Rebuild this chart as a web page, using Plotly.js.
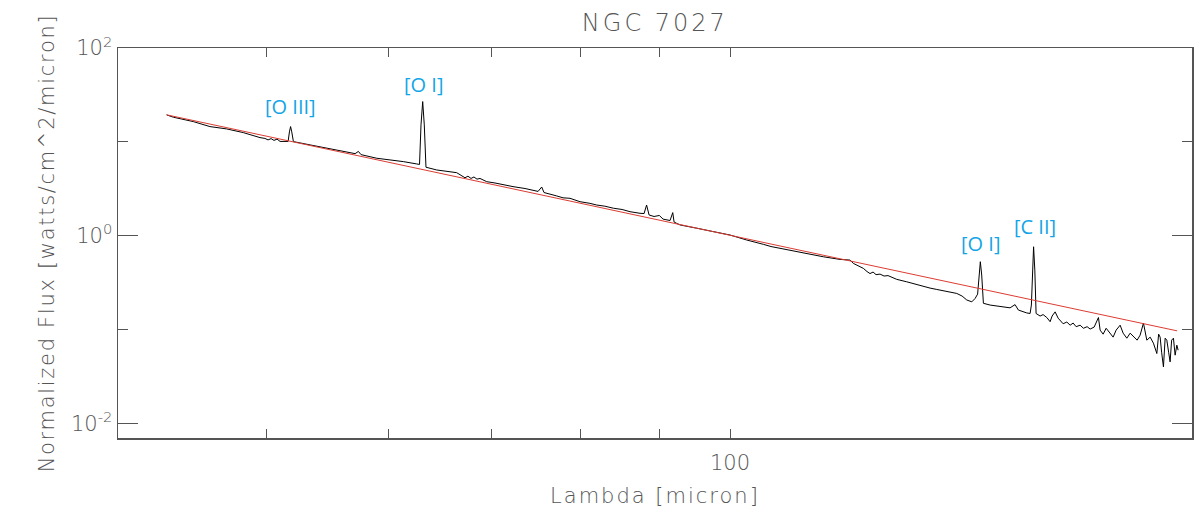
<!DOCTYPE html>
<html>
<head>
<meta charset="utf-8">
<script src="https://cdn.plot.ly/plotly-3.0.1.min.js"></script>
<style>
  html, body { margin: 0; padding: 0; background: #fff; }
  #chart { width: 1195px; height: 511px; }
  .gtitle { letter-spacing: 3px; }
  .xtitle { letter-spacing: 2px; }
  .ytitle { letter-spacing: 1.7px; }
</style>
</head>
<body>
<div id="chart"></div>
<script>
// Spectrum of NGC 7027 (wavelength in micron, normalized flux)
const wavelength = [43.07,43.50,44.82,45.95,47.11,48.30,49.52,49.89,50.12,50.35,
  50.57,50.80,51.03,51.28,51.65,51.75,51.84,51.93,52.06,53.38,
  54.73,56.10,57.09,57.37,57.60,58.97,59.85,61.36,62.60,62.86,
  63.00,63.16,63.31,63.47,64.50,66.45,66.98,67.28,67.58,67.89,
  68.19,68.50,68.81,69.50,70.37,71.25,72.29,73.60,75.05,75.46,
  75.72,77.17,77.90,78.72,79.90,81.10,81.92,82.94,84.00,85.09,
  86.11,87.41,87.94,88.27,88.60,89.26,89.97,90.47,90.97,91.42,
  91.79,91.97,92.34,92.80,95.14,97.54,100.0,102.53,103.81,105.10,
  106.32,107.77,109.38,112.16,114.98,117.88,119.65,120.24,122.05,122.73,
  123.28,123.84,124.39,125.14,125.89,126.64,127.59,128.30,130.23,131.86,
  133.50,134.85,136.21,137.56,138.95,140.35,141.47,142.47,143.54,144.25,
  144.79,145.07,145.38,145.68,146.05,147.52,149.74,151.99,153.13,153.89,
  155.83,156.61,156.91,157.15,157.43,157.72,158.02,158.97,159.69,160.57,
  161.37,161.85,162.58,163.31,163.80,164.54,165.45,166.27,167.02,167.77,
  168.77,169.61,170.55,171.32,172.35,173.46,173.90,174.68,175.47,176.52,
  177.31,178.11,179.18,179.98,180.98,181.88,182.77,183.79,184.61,185.53,
  186.47,187.40,188.32,189.28,189.79,190.22,190.64,191.16,191.65,192.13,
  192.65,193.08,193.52,194.04,194.53,195.03,195.41];
const flux = [19.37,18.30,16.43,14.53,13.73,12.54,11.09,10.87,10.48,10.82,
  10.35,10.69,10.10,10.05,10.10,12.76,14.53,12.76,10.05,9.27,
  8.54,7.86,7.48,7.90,7.30,6.68,6.52,6.15,5.81,5.74,
  15.15,26.85,15.15,5.36,5.01,4.69,4.33,4.14,4.30,4.07,
  4.22,4.00,4.07,3.76,3.64,3.47,3.33,3.18,2.96,3.30,
  2.88,2.65,2.53,2.50,2.30,2.21,2.12,2.06,1.96,1.90,
  1.80,1.73,1.72,2.12,1.66,1.60,1.64,1.50,1.47,1.45,
  1.76,1.40,1.35,1.30,1.20,1.10,1.015,0.898,0.844,0.808,
  0.765,0.732,0.702,0.647,0.595,0.558,0.549,0.506,0.448,0.414,
  0.394,0.409,0.384,0.389,0.371,0.375,0.357,0.342,0.322,0.304,
  0.285,0.276,0.267,0.258,0.253,0.242,0.227,0.206,0.197,0.214,
  0.238,0.380,0.527,0.380,0.190,0.182,0.177,0.170,0.184,0.161,
  0.150,0.148,0.182,0.429,0.761,0.429,0.148,0.139,0.144,0.134,
  0.121,0.139,0.154,0.132,0.126,0.115,0.120,0.111,0.117,0.107,
  0.111,0.103,0.107,0.101,0.106,0.134,0.0984,0.0891,0.103,0.0913,
  0.0828,0.0984,0.111,0.0913,0.0807,0.0913,0.0848,0.0769,0.0869,0.117,
  0.0769,0.0828,0.0714,0.0554,0.0891,0.0828,0.0572,0.0399,0.0807,0.0769,
  0.0572,0.0451,0.0769,0.0807,0.0532,0.0680,0.0601];

// Power-law continuum fit (red line endpoints)
const fitWavelength = [43.07, 195.12];
const fitFlux = [19.4, 0.0966];

// Emission line labels
const lineNames = ['[O III]', '[O I]', '[O I]', '[C II]'];
const lineWavelength = [51.8, 63.2, 145.5, 157.7];
const labelFlux = [23.8, 40.5, 0.834, 1.266];

// Tick labels
const xTickVals = [100];
const xTickText = ['100'];
const xMinorVals = [50, 60, 70, 80, 90, 200];
const yTickVals = [0.01, 1, 100];
const yTickText = ['10<sup>-2</sup>', '10<sup>0</sup>', '10<sup>2</sup>'];
const yMinorVals = [0.1, 10];

const axisColor = '#555555';
const textFont = { family: 'DejaVu Sans', size: 21, color: '#555555', weight: 200 };

const traces = [
  {
    x: wavelength, y: flux, type: 'scatter', mode: 'lines',
    line: { color: '#000000', width: 1 }, hoverinfo: 'skip'
  },
  {
    x: fitWavelength, y: fitFlux, type: 'scatter', mode: 'lines',
    line: { color: '#dc3c32', width: 1 }, hoverinfo: 'skip'
  }
];

const annotations = lineNames.map((t, i) => ({
  x: Math.log10(lineWavelength[i]), y: Math.log10(labelFlux[i]),
  xref: 'x', yref: 'y', text: t, showarrow: false,
  xanchor: 'center', yanchor: 'middle',
  font: { family: 'Open Sans', size: 20, color: '#12a5e6' }
}));

const layout = {
  width: 1195, height: 511,
  margin: { l: 118, r: 3, t: 48, b: 73 },
  paper_bgcolor: '#ffffff', plot_bgcolor: '#ffffff',
  showlegend: false,
  title: {
    text: 'NGC 7027', x: 0.548, xanchor: 'center', y: 0.955, yanchor: 'middle',
    font: { family: 'DejaVu Sans', size: 24, color: '#555555', weight: 200 }
  },
  xaxis: {
    type: 'log', range: [Math.log10(40.05), Math.log10(199.5)],
    showgrid: false, zeroline: false,
    showline: true, linecolor: axisColor, linewidth: 1.5, mirror: 'allticks',
    ticks: 'inside', ticklen: 9, tickwidth: 1, tickcolor: axisColor,
    tickmode: 'array', tickvals: xTickVals, ticktext: xTickText,
    ticklabelstandoff: 5,
    minor: { tickmode: 'array', tickvals: xMinorVals, ticks: 'inside', ticklen: 9, tickwidth: 1, tickcolor: axisColor, showgrid: false },
    tickfont: textFont,
    title: { text: 'Lambda [micron]', font: textFont, standoff: 14 }
  },
  yaxis: {
    type: 'log', range: [-2.157, 2],
    showgrid: false, zeroline: false,
    showline: true, linecolor: axisColor, linewidth: 1.5, mirror: 'allticks',
    ticks: 'inside', ticklen: 20, tickwidth: 1, tickcolor: axisColor,
    tickmode: 'array', tickvals: yTickVals, ticktext: yTickText,
    tickfont: textFont,
    minor: { tickmode: 'array', tickvals: yMinorVals, ticks: 'inside', ticklen: 10, tickwidth: 1, tickcolor: axisColor, showgrid: false },
    title: { text: 'Normalized Flux [watts/cm^2/micron]', font: textFont, standoff: 10 }
  },
  annotations: annotations
};

Plotly.newPlot('chart', traces, layout, { staticPlot: true, displayModeBar: false });
</script>
</body>
</html>
